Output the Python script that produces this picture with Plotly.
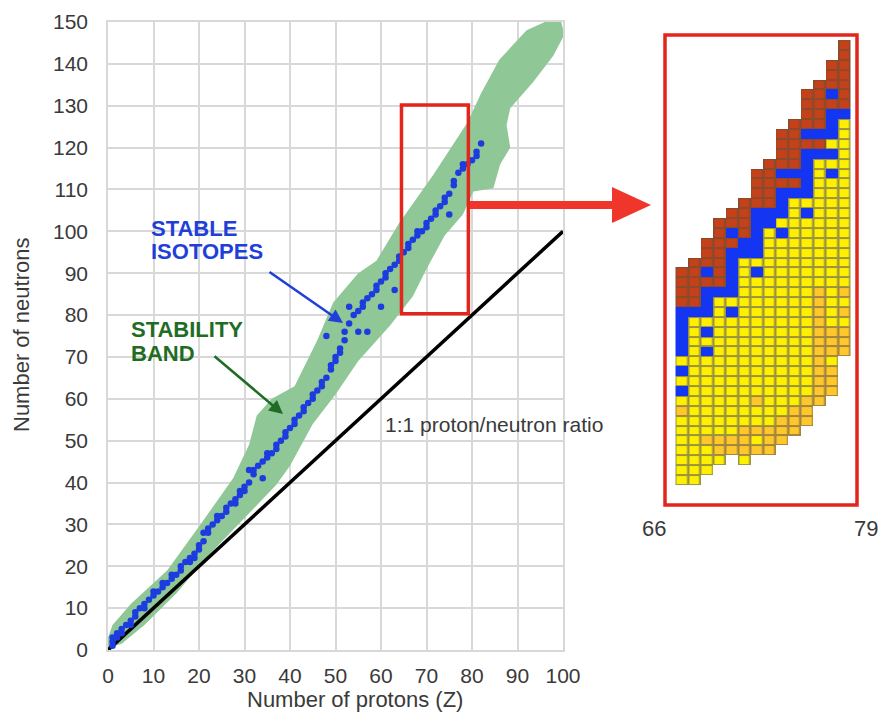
import plotly.graph_objects as go

W, H = 881, 713


def px(x):
    return x / W


def py(y):
    return 1 - y / H


# ---------------- data: main chart ----------------
x_ticks = [0, 10, 20, 30, 40, 50, 60, 70, 80, 90, 100]
y_ticks = [0, 10, 20, 30, 40, 50, 60, 70, 80, 90, 100, 110, 120, 130, 140, 150]

stable_Z = [1, 1, 1, 2, 2, 3, 3, 4, 5, 5, 6, 6, 7, 8, 8, 9, 10, 10, 11, 12, 12, 13,
            14, 14, 15, 16, 16, 17, 18, 18, 19, 19, 20, 20, 21, 21, 22, 22, 23, 24,
            24, 25, 26, 26, 27, 28, 28, 29, 29, 30, 30, 31, 31, 32, 32, 33, 34, 34,
            35, 35, 36, 37, 37, 38, 39, 39, 40, 41, 41, 42, 43, 43, 44, 45, 45, 46,
            47, 47, 48, 48, 49, 49, 50, 50, 51, 51, 52, 52, 53, 53, 54, 55, 55, 56,
            56, 57, 57, 58, 59, 59, 60, 60, 61, 61, 62, 63, 63, 64, 64, 65, 66, 66,
            67, 68, 68, 69, 70, 70, 71, 72, 72, 73, 74, 74, 75, 75, 76, 76, 77, 78,
            78, 79, 80, 81, 81, 82]
stable_N = [1, 2, 3, 3, 4, 4, 5, 6, 6, 7, 8, 9, 10, 10, 11, 12, 13, 14, 14, 15, 16, 16,
            17, 18, 18, 19, 20, 21, 21, 22, 22, 23, 24, 25, 26, 28, 28, 29, 30, 31,
            32, 32, 33, 34, 35, 35, 36, 37, 38, 38, 39, 40, 43, 42, 43, 44, 45, 41,
            46, 47, 47, 48, 49, 50, 51, 52, 53, 54, 55, 56, 57, 58, 59, 60, 61, 62,
            63, 64, 65, 75, 67, 68, 69, 70, 71, 72, 74, 76, 78, 82, 80, 81, 76, 82,
            83, 84, 76, 85, 86, 87, 88, 82, 89, 90, 91, 92, 86, 93, 94, 95, 96, 97,
            98, 99, 100, 100, 101, 102, 103, 104, 105, 106, 107, 108, 109, 104, 111, 112,
            114, 115, 116, 116, 117, 118, 119, 121]

band_upper_Z = [0, 1, 5, 13, 20, 27.5, 31, 32.7, 36, 41, 46, 49.5, 55, 59, 64, 71.5,
                79, 82, 86, 92, 97, 99.5]
band_upper_N = [3, 6, 11, 19, 29.5, 41, 49, 56, 60, 63, 74, 83, 90, 93, 102, 113.5,
                126, 133, 141, 148, 150.5, 150.5]
band_lower_Z = [100.3, 97.9, 93.5, 88.4, 87.6, 88.4, 86.2, 84.7, 80.3, 78, 74, 70, 67,
                62, 55, 50, 45, 40, 37, 30, 22, 15, 8, 3, 0]
band_lower_N = [147, 142, 135.7, 129.4, 125.4, 120, 116, 110.3, 109.5, 104, 99, 91,
                84.5, 77.5, 69, 61, 54, 44, 39.5, 31.5, 22.5, 13.5, 6, 1.5, 0.5]

ratio_Z = [0, 100]
ratio_N = [0, 100]

zoom_box_Z = [64.5, 79.2]
zoom_box_N = [80.3, 130.2]

# ---------------- data: inset (Z = 66 ... 79) ----------------
inset_Z = [66, 67, 68, 69, 70, 71, 72, 73, 74, 75, 76, 77, 78, 79]
inset_top_N = [102, 103, 105, 107, 108, 109, 112, 113, 116, 117, 120, 121, 123, 125]
inset_bottom_N = [81, 81, 82, 83, 84, 83, 84, 84, 85, 86, 87, 89, 90, 94]
inset_brown_from_N = [99, 99, 101, 101, 105, 106, 109, 109, 111, 111, 115, 115, 119, 119]
inset_stable_N = [
    [90, 92, 94, 95, 96, 97, 98],
    [98],
    [94, 96, 98, 99, 100, 102],
    [100],
    [98, 100, 101, 102, 103, 104, 106],
    [104, 105],
    [102, 104, 105, 106, 107, 108],
    [107, 108],
    [106, 108, 109, 110, 112],
    [110, 112],
    [108, 110, 111, 112, 113, 114, 116],
    [114, 116],
    [112, 114, 116, 117, 118, 120],
    [118],
]
inset_alpha_N = [
    [88],
    [],
    [85],
    [84, 85],
    [84, 85],
    [84, 85, 86],
    [84, 86, 89],
    [84, 85, 86],
    [85, 86, 87],
    [86, 87, 88],
    [87, 88, 89],
    [89, 90, 91, 92, 93, 94, 95, 96, 97, 98, 99, 100],
    [90, 91, 92, 94, 95, 96],
    [94, 95, 96, 98, 100],
]
inset_labels = ["66", "79"]

# ---------------- figure ----------------
FONT = "Liberation Sans, Arial, Helvetica, sans-serif"
GRID = "#d8d8d8"
TXT = "#3a3a3a"

fig = go.Figure()

band_Z = band_upper_Z + band_lower_Z
band_N = band_upper_N + band_lower_N
fig.add_trace(go.Scatter(x=band_Z, y=band_N, fill="toself", mode="none",
                         fillcolor="#8fc797", hoverinfo="skip", showlegend=False))
fig.add_trace(go.Scatter(x=ratio_Z, y=ratio_N, mode="lines",
                         line=dict(color="#000000", width=3.5), showlegend=False))
fig.add_trace(go.Scatter(x=stable_Z, y=stable_N, mode="markers",
                         marker=dict(color="#1c3ce0", size=6.5, symbol="circle",
                                     line=dict(width=0)),
                         showlegend=False))

# inset cells as category grid: 0 yellow, 1 orange, 2 brown, 3 blue
rows_N = list(range(min(inset_bottom_N), max(inset_top_N) + 1))
grid = [[None] * len(inset_Z) for _ in rows_N]
for ci, (lo, hi, bf, st, al) in enumerate(zip(inset_bottom_N, inset_top_N,
                                              inset_brown_from_N, inset_stable_N,
                                              inset_alpha_N)):
    for n in range(lo, hi + 1):
        if n in st:
            k = 3
        elif n >= bf:
            k = 2
        elif n in al:
            k = 1
        else:
            k = 0
        grid[n - rows_N[0]][ci] = k


def discrete(cols):
    return [[0, cols[0]], [0.166, cols[0]], [0.167, cols[1]], [0.5, cols[1]],
            [0.5001, cols[2]], [0.833, cols[2]], [0.834, cols[3]], [1, cols[3]]]


fill_cols = ["#fff000", "#ffc82a", "#c4411a", "#1436f2"]
edge_cols = ["#9a9440", "#a38440", "#8a4a2c", "#1436f2"]
fig.add_trace(go.Heatmap(x=inset_Z, y=rows_N, z=grid, xaxis="x2", yaxis="y2",
                         zmin=0, zmax=3, colorscale=discrete(edge_cols),
                         showscale=False, hoverinfo="skip"))
fig.add_trace(go.Heatmap(x=inset_Z, y=rows_N, z=grid, xaxis="x2", yaxis="y2",
                         zmin=0, zmax=3, colorscale=discrete(fill_cols),
                         xgap=2.5, ygap=2, showscale=False, hoverinfo="skip"))

axis_common = dict(showgrid=True, gridcolor=GRID, gridwidth=1.5, zeroline=False,
                   showline=True, linecolor=GRID, linewidth=1.5, mirror=True,
                   ticks="", tickfont=dict(size=21, color=TXT, family=FONT),
                   fixedrange=True, automargin=False)

fig.update_layout(
    width=W, height=H, autosize=False,
    margin=dict(l=0, r=0, t=0, b=0),
    paper_bgcolor="white", plot_bgcolor="white",
    showlegend=False,
    xaxis=dict(domain=[px(108), px(563)], range=[0, 100], tickmode="array",
               tickvals=x_ticks, ticktext=[str(v) for v in x_ticks],
               ticklabelstandoff=6, **axis_common),
    yaxis=dict(domain=[py(650), py(22)], range=[0, 150], tickmode="array",
               tickvals=y_ticks, ticktext=[str(v) for v in y_ticks],
               ticklabelstandoff=14, **axis_common),
    xaxis2=dict(domain=[px(665), px(857)], range=[64.66, 80.02], visible=False,
                anchor="y2", fixedrange=True),
    yaxis2=dict(domain=[py(505), py(35)], range=[78.47, 126.01], visible=False,
                anchor="x2", fixedrange=True),
)

RED = "#e3261c"
fig.add_shape(type="rect", xref="x", yref="y", x0=zoom_box_Z[0], x1=zoom_box_Z[1],
              y0=zoom_box_N[0], y1=zoom_box_N[1], line=dict(color=RED, width=3.5),
              layer="above")
fig.add_shape(type="rect", xref="paper", yref="paper", x0=px(665), x1=px(857),
              y0=py(505), y1=py(35), line=dict(color=RED, width=3.5), layer="above")
fig.add_shape(type="line", xref="paper", yref="paper", x0=px(470), x1=px(616),
              y0=py(205), y1=py(205), line=dict(color="#f0352b", width=8))
fig.add_shape(type="path", xref="paper", yref="paper",
              path=f"M {px(612)},{py(187)} L {px(651)},{py(205)} L {px(612)},{py(223)} Z",
              fillcolor="#f0352b", line=dict(width=0))

ann = []


def txt(s, x, y, size=21, color=TXT, xanchor="left", angle=0):
    ann.append(dict(text=s, x=px(x), y=py(y), xref="paper", yref="paper",
                    xanchor=xanchor, yanchor="middle", showarrow=False,
                    textangle=angle, font=dict(size=size, color=color, family=FONT)))


txt("<b>STABLE</b>", 149, 228, 22, "#1f3fd8")
txt("<b>ISOTOPES</b>", 149, 251, 22, "#1f3fd8")
txt("<b>STABILITY</b>", 129, 329, 22, "#1f6d24")
txt("<b>BAND</b>", 129, 353, 22, "#1f6d24")
txt("1:1 proton/neutron ratio", 383, 424, 21)
txt("Number of protons (Z)", 355, 699, 22, xanchor="center")
txt("Number of neutrons", 22, 335, 22, xanchor="center", angle=-90)
txt(inset_labels[0], 654, 528, 22, xanchor="center")
txt(inset_labels[1], 866, 528, 22, xanchor="center")


def arrow(hx, hy, tx, ty, color):
    ann.append(dict(text="", x=px(hx), y=py(hy), xref="paper", yref="paper",
                    ax=tx - hx, ay=ty - hy, showarrow=True, arrowhead=2,
                    arrowsize=1.1, arrowwidth=2.5, arrowcolor=color, standoff=0))


arrow(343, 323, 268, 271, "#1f3fd8")
arrow(283, 414, 213, 355, "#1f6d24")

fig.update_layout(annotations=ann)

fig.write_html("out.html", config={"displayModeBar": False},
               post_script="document.body.style.margin='0px';")
